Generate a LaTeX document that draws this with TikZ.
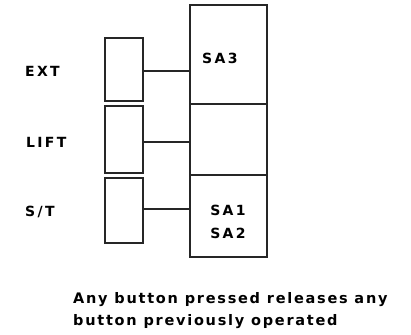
\documentclass[tikz,border=0pt]{standalone}
\usepackage{fontspec}
\setmainfont{DejaVu Sans}
\begin{document}
\begin{tikzpicture}[x=1pt,y=-1pt,
  ln/.style={draw=black!85,line width=1.3pt},
  lbl/.style={font=\fontsize{14}{15}\selectfont\bfseries, inner sep=0pt},
  note/.style={font=\fontsize{14.5}{22}\selectfont\bfseries\addfontfeatures{LetterSpace=12}, inner sep=0pt, align=left}]
\useasboundingbox (0,0) rectangle (411,334);
% big box
\draw[ln] (190,5) rectangle (267,257);
\draw[ln] (190,104) -- (267,104);
\draw[ln] (190,175) -- (267,175);
\coordinate (r1) at (190,71);
\coordinate (r2) at (190,142);
\coordinate (r3) at (190,209);
% small boxes
\node[ln, minimum width=38pt, minimum height=63pt, inner sep=0pt] (b1) at (124,69.5) {};
\node[ln, minimum width=38pt, minimum height=67pt, inner sep=0pt] (b2) at (124,139.5) {};
\node[ln, minimum width=38pt, minimum height=65pt, inner sep=0pt] (b3) at (124,210.5) {};
\draw[ln] (b1.east |- r1) -- (r1);
\draw[ln] (b2.east |- r2) -- (r2);
\draw[ln] (b3.east |- r3) -- (r3);
% labels
\node[lbl, anchor=west] (ext) at (25,71) {E\,X\,T};
\node[lbl, anchor=west] (lift) at (26,142) {L\,I\,F\,T};
\node[lbl, anchor=west] (st) at (25,212) {S\,/\,T};
\node[lbl, anchor=west] (sa3) at (202,58) {S\,A\,3};
\node[lbl, align=center, font=\fontsize{14}{23}\selectfont\bfseries] (sa12) at (228,222) {S\,A\,1\\S\,A\,2};
\node[note, anchor=north west] (txt) at (73,292) {Any button pressed releases any\\button previously operated};
\end{tikzpicture}
\end{document}
